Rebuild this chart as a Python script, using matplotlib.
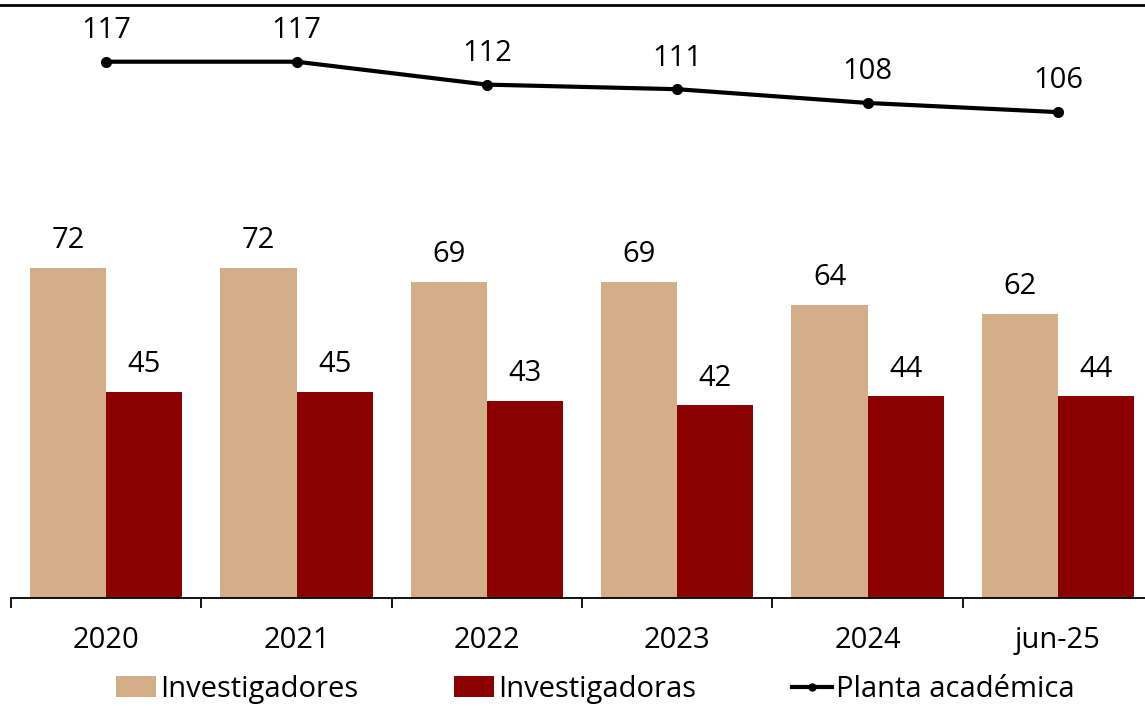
import numpy as np
import matplotlib
matplotlib.use('Agg')
import matplotlib.pyplot as plt
from matplotlib.lines import Line2D
from matplotlib.patches import Patch

plt.rcParams['font.family'] = ['Open Sans', 'DejaVu Sans']

categorias = ['2020', '2021', '2022', '2023', '2024', 'jun-25']
investigadores = [72, 72, 69, 69, 64, 62]
investigadoras = [45, 45, 43, 42, 44, 44]
planta = [117, 117, 112, 111, 108, 106]

c_hombres = '#D3AE88'
c_mujeres = '#8B0000'
fs = 21

fig = plt.figure(figsize=(11.45, 7.06), dpi=100)
ax = fig.add_axes([11 / 1145, 0.153, 1134 / 1145, 0.844])

x = np.arange(len(categorias))
w = 0.4
ax.bar(x - w / 2, investigadores, width=w, color=c_hombres, zorder=2)
ax.bar(x + w / 2, investigadoras, width=w, color=c_mujeres, zorder=2)
ax.plot(x, planta, color='black', linewidth=3, marker='o', markersize=7, zorder=3)

for xi, v in zip(x, investigadores):
    ax.annotate(f'{v}', xy=(xi - w / 2, v), xytext=(0, 9), textcoords='offset points',
                ha='center', va='bottom', fontsize=fs)
for xi, v in zip(x, investigadoras):
    ax.annotate(f'{v}', xy=(xi + w / 2, v), xytext=(0, 9), textcoords='offset points',
                ha='center', va='bottom', fontsize=fs)
for xi, v in zip(x, planta):
    ax.annotate(f'{v}', xy=(xi, v), xytext=(0, 12), textcoords='offset points',
                ha='center', va='bottom', fontsize=fs)

ax.set_yticks([])
for s in ['left', 'right', 'top']:
    ax.spines[s].set_visible(False)
ax.spines['bottom'].set_linewidth(1.3)

ax.set_xticks(x)
ax.set_xticklabels(categorias, fontsize=fs)
ax.set_xticks(np.arange(-0.5, len(categorias), 1.0), minor=True)
ax.tick_params(axis='x', which='major', length=0, pad=20.5)
ax.tick_params(axis='x', which='minor', length=7, width=1.3, direction='out')
# limits after ticks (set_xticks would widen them)
ax.set_xlim(-0.5, 5.457)
ax.set_ylim(0, 130)

# línea superior
fig.add_artist(Line2D([0, 1], [1 - 5 / 706, 1 - 5 / 706], transform=fig.transFigure,
                      color='black', linewidth=2))

handles = [
    Patch(facecolor=c_hombres, label='Investigadores'),
    Patch(facecolor=c_mujeres, label='Investigadoras'),
    Line2D([], [], color='black', linewidth=3, marker='o', markersize=5, label='Planta académica'),
]
fig.legend(handles=handles, loc='lower center', bbox_to_anchor=(0.520, -0.034), ncol=3,
           frameon=False, fontsize=fs, handlelength=1.35, handletextpad=0.15,
           columnspacing=3.3)

fig.savefig('out.png', dpi=100)
